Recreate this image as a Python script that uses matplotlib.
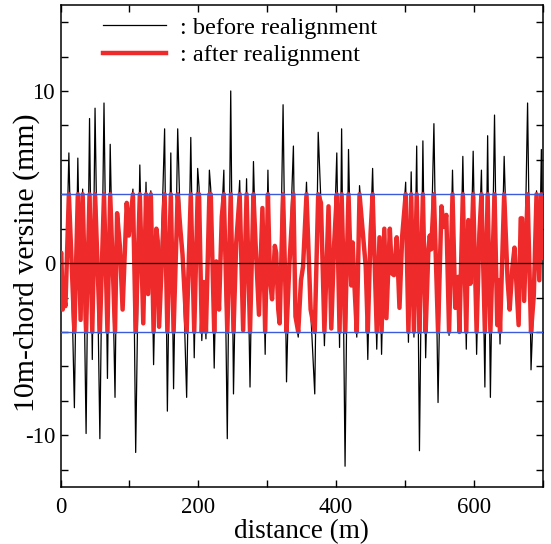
import matplotlib
matplotlib.use("Agg")
import matplotlib.pyplot as plt
from matplotlib.ticker import FixedLocator

plt.rcParams["font.family"] = ["Liberation Serif", "DejaVu Serif"]
plt.rcParams["axes.unicode_minus"] = False

# distance along the track (m)
distance = [
    0, 1, 3, 5, 7, 12, 20, 25, 29, 32, 37, 42, 46, 50, 57, 63, 68, 72, 79, 82, 86, 90, 96, 99,
    105, 109, 115, 120, 124, 127, 131, 135, 139, 141, 143, 151, 155, 160, 164, 170, 174, 177, 183, 189, 194, 199, 201,
    205, 208, 211, 216, 218, 223, 226, 230, 234, 237, 242, 247, 251, 255, 260, 265, 270, 275, 280, 283, 288, 293, 297, 301,
    304, 307, 311, 313, 316, 318, 323, 328, 332, 338, 341, 345, 349, 352, 357, 363, 369, 374, 378, 383, 389, 393, 397,
    401, 405, 408, 413, 418, 422, 424, 427, 430, 434, 440, 443, 446, 450, 453, 459, 463, 466, 470, 473, 478, 481, 484, 488, 492, 496,
    501, 505, 509, 513, 517, 521, 526, 530, 534, 536, 538, 542, 548, 553, 556, 560, 564, 569, 573, 577, 579, 584, 589, 592, 595,
    599, 604, 608, 611, 616, 620, 624, 630, 634, 636, 638, 644, 649, 652, 656, 659, 662, 665, 668, 670, 673, 678, 683, 687, 691, 695, 698, 700,
]

# 10m-chord versine before realignment (mm)
before = [
    0.5, 0.6, -2.7, -2.0, -2.5, 6.4, -8.4, 6.1, -3.3, 4.3, -9.9, 8.4, -5.6, 9.0, -10.2, 9.3, -6.7, 6.9, -7.8, 2.9, 1.0, -2.7, 3.5, 1.6,
    4.3, -11.0, 5.7, -3.5, 4.7, -1.8, 4.2, -5.9, 2.0, 1.3, -3.7, 7.8, -8.6, 6.4, -7.3, 7.8, 1.9, 0.5, -7.8, 7.3, -5.5, 5.5, 4.4,
    -4.5, -1.1, -4.4, 5.4, 4.3, -6.1, 0.1, -2.7, 2.7, 5.4, -10.2, 10.0, -7.6, 1.2, 4.8, -3.9, 4.9, -7.2, 5.9, 1.2, -3.0, 3.2, -5.3, 5.4,
    -1.0, -2.1, 1.0, 0.6, -2.7, -3.5, 9.2, -6.9, -0.2, 6.8, -3.1, -4.3, -1.0, -0.2, 4.7, -2.7, -7.6, 7.6, 3.5, -4.8, 3.3, -3.8, 1.0,
    6.4, -4.9, 7.8, -11.8, 6.6, -1.3, 1.2, -1.6, -4.3, 4.5, 1.2, -0.2, -5.6, 1.7, 5.5, -5.0, 1.5, -5.3, 2.0, -3.2, 2.0, -0.6, -0.7, 1.5, -2.6, 1.6,
    4.7, -4.6, 5.3, -4.3, 6.8, -10.9, 7.1, -5.5, 0.8, 1.6, 0.8, 8.1, -8.1, 3.3, 2.1, 2.8, -4.2, 5.4, -2.6, -0.8, -4.0, 6.2, -5.0, 2.5, -1.2,
    6.5, -5.3, 1.7, 5.4, -7.2, 7.4, -7.8, 8.6, -3.6, -1.0, -4.7, 6.2, -1.0, -2.7, -0.2, 0.9, -1.3, -3.6, 2.6, 2.6, -2.2, 9.3, -6.2, -1.9, 4.2, -1.0, 6.6, 0.3,
]

# 10m-chord versine after realignment (mm)
after = [
    0.5, 0.6, -2.7, -2.0, -2.5, 4, -4, 4, -3.3, 4, -4, 4, -4, 4, -4, 4, -4, 4, -4, 2.9, 1.0, -2.7, 3.5, 1.6,
    4, -4, 4, -3.5, 4, -1.8, 4, -4, 2.0, 1.3, -3.7, 4, -4, 4, -4, 4, 1.9, 0.5, -4, 4, -4, 4, 4,
    -4, -1.1, -4, 4, 4, -4, 0.1, -2.7, 2.7, 4, -4, 4, -4, 1.2, 4, -3.9, 4, -4, 4, 1.2, -3.0, 3.2, -4, 4,
    -1.0, -2.1, 1.0, 0.6, -2.7, -3.5, 4, -4, -0.2, 4, -3.1, -4, -1.0, -0.2, 4, -2.7, -4, 4, 3.5, -4, 3.3, -3.8, 1.0,
    4, -4, 4, -4, 4, -1.3, 1.2, -1.6, -4, 4, 1.2, -0.2, -4, 1.7, 4, -4, 1.5, -4, 2.0, -3.2, 2.0, -0.6, -0.7, 1.5, -2.6, 1.6,
    4, -4, 4, -4, 4, -4, 4, -4, 0.8, 1.6, 0.8, 4, -4, 3.3, 2.1, 2.8, -4, 4, -2.6, -0.8, -4, 4, -4, 2.5, -1.2,
    4, -4, 1.7, 4, -4, 4, -4, 4, -3.6, -1.0, -4, 4, -1.0, -2.7, -0.2, 0.9, -1.3, -3.6, 2.6, 2.6, -2.2, 4, -4, -1.9, 4, -1.0, 4, 0.3,
]

limit = 4.0  # allowable versine (mm)

x_ticks = [0, 200, 400, 600]
x_minor = [100, 300, 500, 700]
y_ticks = [-10, 0, 10]
y_minor = [-12, -8, -6, -4, -2, 2, 4, 6, 8, 12, 14]

fig = plt.figure(figsize=(5.51, 5.44), dpi=100)
ax = fig.add_axes([0.110, 0.105, 0.875, 0.886])

ax.plot(distance, before, color="black", lw=0.9, label=": before realignment", zorder=2)
ax.plot(distance, after, color="#ee2a2a", lw=3.2, label=": after realignment", zorder=3)
ax.axhline(limit, color="#3b5bdb", lw=1.0, zorder=4)
ax.axhline(-limit, color="#3b5bdb", lw=1.0, zorder=4)
ax.axhline(0, color="black", lw=0.9, zorder=4)

ax.set_xlim(0, 700)
ax.set_ylim(-13, 15)
ax.set_xticks(x_ticks)
ax.set_xticklabels([str(t) for t in x_ticks])
ax.xaxis.set_minor_locator(FixedLocator(x_minor))
ax.set_yticks(y_ticks)
ax.set_yticklabels([str(t) for t in y_ticks])
ax.yaxis.set_minor_locator(FixedLocator(y_minor))
ax.tick_params(which="both", direction="in", top=True, right=True, length=5, width=1,
               labelsize=16.5, pad=4)
ax.tick_params(axis="x", pad=7)
for s in ax.spines.values():
    s.set_linewidth(1.1)

ax.set_xlabel("distance (m)", fontsize=19.5, labelpad=1)
ax.set_ylabel("10m-chord versine (mm)", fontsize=21.5)
ax.yaxis.set_label_coords(-0.042, 0.465)

ax.legend(loc="upper left", bbox_to_anchor=(0.043, 1.021), frameon=False, fontsize=17.5,
          handlelength=2.6, handletextpad=0.55, labelspacing=0.22)

fig.savefig("out.png", dpi=100)
